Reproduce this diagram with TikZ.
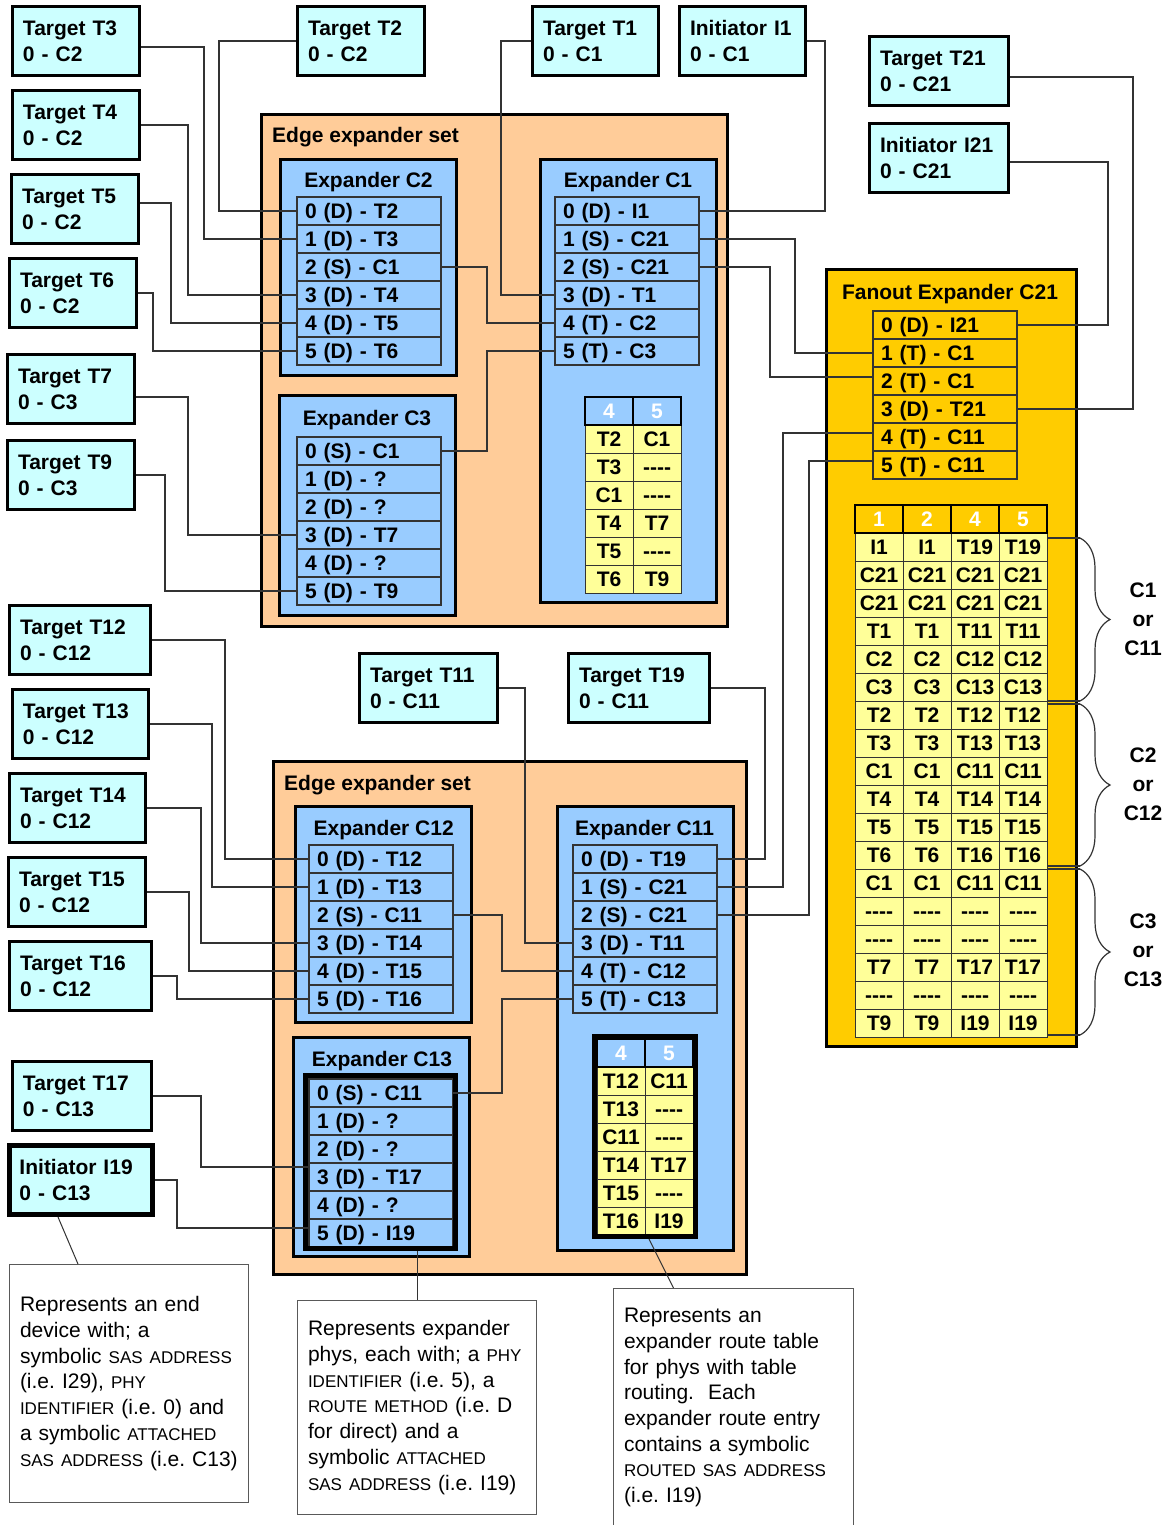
\documentclass[tikz,border=0pt]{standalone}
\usepackage{fontspec}
\setmainfont{Liberation Sans}
\usetikzlibrary{decorations.pathreplacing}
\definecolor{cyanbox}{HTML}{CCFFFF}
\definecolor{orangebox}{HTML}{FFCC99}
\definecolor{bluebox}{HTML}{99CCFF}
\definecolor{goldbox}{HTML}{FFCC00}
\definecolor{yellowcell}{HTML}{FFFF99}
\definecolor{linegray}{HTML}{333333}
\frenchspacing
\newcommand\bigf{\fontsize{21}{26}\selectfont\bfseries}
\newcommand\lblf{\fontsize{21}{29}\selectfont\bfseries}
\newcommand\notef{\fontsize{21}{25.7}\selectfont\frenchspacing}
\newcommand\smcp[1]{{\fontsize{17}{25.7}\selectfont #1}}
\newcommand\dsh{-{}-{}-{}-}
\begin{document}
\begin{tikzpicture}[x=1pt,y=-1pt,
  tgtbox/.style={draw=black, line width=3pt, fill=cyanbox, anchor=north west, minimum height=69pt, inner xsep=10.5pt, inner ysep=0pt, align=left, font=\bigf},
  esetbox/.style={draw=black, line width=3pt, fill=orangebox, anchor=north west, inner sep=0pt},
  expbox/.style={draw=black, line width=3pt, fill=bluebox, anchor=north west, inner sep=0pt},
  fanbox/.style={draw=black, line width=3pt, fill=goldbox, anchor=north west, inner sep=0pt},
  portrow/.style={draw=linegray, line width=1.2pt, anchor=north west, outer sep=0pt, minimum width=144pt, minimum height=28pt, text width=128pt, inner xsep=8pt, inner ysep=0pt, text height=17pt, text depth=2pt, align=left, font=\bigf},
  ttl/.style={anchor=base, font=\bigf, inner sep=0pt},
  tcell/.style={draw=linegray, line width=1pt, fill=yellowcell, anchor=north west, outer sep=0pt, minimum width=48pt, minimum height=28pt, inner sep=0pt, text height=17pt, text depth=2pt, font=\bigf},
  thcell/.style={tcell, draw=black, line width=2pt, text=white},
  conn/.style={draw=black!80, line width=1.2pt},
  notebox/.style={draw=black!65, line width=1pt, fill=white, anchor=north west, inner xsep=10.5pt, inner ysep=0pt, align=left, font=\notef},
  thickframe/.style={draw=black, line width=5pt, anchor=north west, inner sep=0pt},
  brc/.style={draw=black!80, line width=1.2pt, decorate, decoration={brace, amplitude=30pt}},
]
\useasboundingbox (0,0) rectangle (1172,1525);
\fill[white] (0,0) rectangle (1172,1525);

% containers
\node[esetbox, minimum width=466pt, minimum height=512pt] (es1) at (260,113) {};
\node[esetbox, minimum width=473pt, minimum height=513pt] (es2) at (272,760) {};
\node[fanbox, minimum width=250pt, minimum height=777pt] (fan) at (825,268) {};
\node[expbox, minimum width=176pt, minimum height=216pt] (c2) at (279,158) {};
\node[expbox, minimum width=176pt, minimum height=443pt] (c1) at (539,158) {};
\node[expbox, minimum width=176pt, minimum height=220pt] (c3) at (278,394) {};
\node[expbox, minimum width=176pt, minimum height=216pt] (c12) at (294,805) {};
\node[expbox, minimum width=176pt, minimum height=444pt] (c11) at (556,805) {};
\node[expbox, minimum width=176pt, minimum height=219pt] (c13) at (292,1036) {};

% titles
\node[ttl, anchor=base west] (es1t) at (272,143) {Edge expander set};
\node[ttl] (c2t) at (368.5,188) {Expander C2};
\node[ttl] (c1t) at (628,188) {Expander C1};
\node[ttl] (c3t) at (367,425) {Expander C3};
\node[ttl] (fant) at (950,299) {Fanout Expander C21};
\node[ttl, anchor=base west] (es2t) at (284,790.5) {Edge expander set};
\node[ttl] (c12t) at (383.7,835) {Expander C12};
\node[ttl] (c11t) at (644.5,835) {Expander C11};
\node[ttl] (c13t) at (382,1066.5) {Expander C13};

% ports
\foreach \i/\t in {0/{0 (D) - T2},1/{1 (D) - T3},2/{2 (S) - C1},3/{3 (D) - T4},4/{4 (D) - T5},5/{5 (D) - T6}}
  \node[portrow] (c2p\i) at (297,{197+28*\i}) {\t};
\foreach \i/\t in {0/{0 (D) - I1},1/{1 (S) - C21},2/{2 (S) - C21},3/{3 (D) - T1},4/{4 (T) - C2},5/{5 (T) - C3}}
  \node[portrow] (c1p\i) at (555,{197+28*\i}) {\t};
\foreach \i/\t in {0/{0 (S) - C1},1/{1 (D) - ?},2/{2 (D) - ?},3/{3 (D) - T7},4/{4 (D) - ?},5/{5 (D) - T9}}
  \node[portrow] (c3p\i) at (297,{437+28*\i}) {\t};
\foreach \i/\t in {0/{0 (D) - I21},1/{1 (T) - C1},2/{2 (T) - C1},3/{3 (D) - T21},4/{4 (T) - C11},5/{5 (T) - C11}}
  \node[portrow] (fp\i) at (873,{311+28*\i}) {\t};
\foreach \i/\t in {0/{0 (D) - T12},1/{1 (D) - T13},2/{2 (S) - C11},3/{3 (D) - T14},4/{4 (D) - T15},5/{5 (D) - T16}}
  \node[portrow] (c12p\i) at (309,{845+28*\i}) {\t};
\foreach \i/\t in {0/{0 (D) - T19},1/{1 (S) - C21},2/{2 (S) - C21},3/{3 (D) - T11},4/{4 (T) - C12},5/{5 (T) - C13}}
  \node[portrow] (c11p\i) at (573,{845+28*\i}) {\t};
\foreach \i/\t in {0/{0 (S) - C11},1/{1 (D) - ?},2/{2 (D) - ?},3/{3 (D) - T17},4/{4 (D) - ?},5/{5 (D) - I19}}
  \node[portrow] (c13p\i) at (309,{1079+28*\i}) {\t};

% C1 route table
\foreach \k/\a/\b in {0/T2/C1,1/T3/\dsh,2/C1/\dsh,3/T4/T7,4/T5/\dsh,5/T6/T9}{
  \node[tcell] (c1ta-\k) at (585,{425+28*\k}) {\a};
  \node[tcell] (c1tb-\k) at (633,{425+28*\k}) {\b};
}
\node[thcell, fill=bluebox] (c1th4) at (585,397) {4};
\node[thcell, fill=bluebox] (c1th5) at (633,397) {5};

% C11 route table
\foreach \k/\a/\b in {0/T12/C11,1/T13/\dsh,2/C11/\dsh,3/T14/T17,4/T15/\dsh,5/T16/I19}{
  \node[tcell] (c11ta-\k) at (597,{1067+28*\k}) {\a};
  \node[tcell] (c11tb-\k) at (645,{1067+28*\k}) {\b};
}
\node[thcell, fill=bluebox] (c11th4) at (597,1039) {4};
\node[thcell, fill=bluebox] (c11th5) at (645,1039) {5};
\node[thickframe, minimum width=101pt, minimum height=200pt] (c11tf) at (592,1034) {};

% C13 port frame
\node[thickframe, minimum width=150pt, minimum height=173pt] (c13f) at (303,1073) {};

% fanout route table
\foreach \r/\a/\b/\c/\d in {
1/I1/I1/T19/T19,
2/C21/C21/C21/C21,
3/C21/C21/C21/C21,
4/T1/T1/T11/T11,
5/C2/C2/C12/C12,
6/C3/C3/C13/C13,
7/T2/T2/T12/T12,
8/T3/T3/T13/T13,
9/C1/C1/C11/C11,
10/T4/T4/T14/T14,
11/T5/T5/T15/T15,
12/T6/T6/T16/T16,
13/C1/C1/C11/C11,
14/\dsh/\dsh/\dsh/\dsh,
15/\dsh/\dsh/\dsh/\dsh,
16/T7/T7/T17/T17,
17/\dsh/\dsh/\dsh/\dsh,
18/T9/T9/I19/I19}{
  \node[tcell] (ft-\r-a) at (855,{533+28*(\r-1)}) {\a};
  \node[tcell] (ft-\r-b) at (903,{533+28*(\r-1)}) {\b};
  \node[tcell] (ft-\r-c) at (951,{533+28*(\r-1)}) {\c};
  \node[tcell] (ft-\r-d) at (999,{533+28*(\r-1)}) {\d};
}
\node[thcell, fill=goldbox] (fth1) at (855,505) {1};
\node[thcell, fill=goldbox] (fth2) at (903,505) {2};
\node[thcell, fill=goldbox] (fth4) at (951,505) {4};
\node[thcell, fill=goldbox] (fth5) at (999,505) {5};

% end devices
\node[tgtbox, minimum width=127pt, text width=106pt] (t3) at (11,5) {Target T3\\0 - C2};
\node[tgtbox, minimum width=127pt, text width=106pt] (t4) at (11,89) {Target T4\\0 - C2};
\node[tgtbox, minimum width=127pt, text width=106pt] (t5) at (10,173) {Target T5\\0 - C2};
\node[tgtbox, minimum width=127pt, text width=106pt] (t6) at (8,257) {Target T6\\0 - C2};
\node[tgtbox, minimum width=127pt, text width=106pt] (t7) at (6,353) {Target T7\\0 - C3};
\node[tgtbox, minimum width=127pt, text width=106pt] (t9) at (6,439) {Target T9\\0 - C3};
\node[tgtbox, minimum width=141pt, text width=120pt] (t12) at (8,604) {Target T12\\0 - C12};
\node[tgtbox, minimum width=136pt, text width=115pt] (t13) at (11,688) {Target T13\\0 - C12};
\node[tgtbox, minimum width=136pt, text width=115pt] (t14) at (8,772) {Target T14\\0 - C12};
\node[tgtbox, minimum width=137pt, text width=116pt] (t15) at (7,856) {Target T15\\0 - C12};
\node[tgtbox, minimum width=142pt, text width=121pt] (t16) at (8,940) {Target T16\\0 - C12};
\node[tgtbox, minimum width=139pt, text width=118pt] (t17) at (11,1060) {Target T17\\0 - C13};
\node[tgtbox, line width=5pt, inner xsep=10pt, minimum width=143pt, text width=123pt] (i19) at (7,1143) {Initiator I19\\0 - C13};
\node[tgtbox, minimum width=127pt, text width=106pt] (t2) at (296,5) {Target T2\\0 - C2};
\node[tgtbox, minimum width=126pt, text width=105pt] (t1) at (531,5) {Target T1\\0 - C1};
\node[tgtbox, minimum width=126pt, text width=105pt] (i1) at (678,5) {Initiator I1\\0 - C1};
\node[tgtbox, minimum width=139pt, text width=118pt] (t21) at (868,35) {Target T21\\0 - C21};
\node[tgtbox, minimum width=139pt, text width=118pt] (i21) at (868,122) {Initiator I21\\0 - C21};
\node[tgtbox, minimum width=138pt, text width=117pt] (t11) at (358,652) {Target T11\\0 - C11};
\node[tgtbox, minimum width=141pt, text width=120pt] (t19) at (567,652) {Target T19\\0 - C11};

% connectors, upper set
\draw[conn] ([yshift=-6pt]t3.east) -- ++(63,0) |- (c2p1.west);
\draw[conn] (t2.west) -- ++(-77,0) |- (c2p0.west);
\draw[conn] (t4.east) -- ++(47,0) |- (c2p3.west);
\draw[conn] ([yshift=6pt]t5.east) -- ++(31,0) |- (c2p4.west);
\draw[conn] (t6.east) -- ++(15,0) |- (c2p5.west);
\draw[conn] ([yshift=-8pt]t7.east) -- ++(52,0) |- (c3p3.west);
\draw[conn] (t9.east) -- ++(29,0) |- (c3p5.west);
\draw[conn] (c2p2.east) -- ++(46,0) |- (c1p4.west);
\draw[conn] (c3p0.east) -- ++(46,0) |- (c1p5.west);
\draw[conn] (t1.west) -- ++(-30,0) |- (c1p3.west);
\draw[conn] (i1.east) -- ++(18,0) |- (c1p0.east);
\draw[conn] (c1p1.east) -- ++(96,0) |- (fp1.west);
\draw[conn] (c1p2.east) -- ++(71,0) |- ([yshift=4pt]fp2.west);
\draw[conn] ([yshift=-6pt]t21.east) -- ++(123,0) |- (fp3.east);
\draw[conn] ([yshift=-4pt]i21.east) -- ++(98,0) |- (fp0.east);
% connectors, fanout to lower set
\draw[conn] ([yshift=4pt]fp4.west) -- ++(-90,0) |- (c11p1.east);
\draw[conn] ([yshift=4pt]fp5.west) -- ++(-64,0) |- (c11p2.east);
% connectors, lower set
\draw[conn] (t11.east) -- ++(26,0) |- (c11p3.west);
\draw[conn] (t19.east) -- ++(54,0) |- (c11p0.east);
\draw[conn] (c12p2.east) -- ++(49,0) |- (c11p4.west);
\draw[conn] (c13p0.east) -- ++(49,0) |- (c11p5.west);
\draw[conn] (t12.east) -- ++(73,0) |- (c12p0.west);
\draw[conn] (t13.east) -- ++(62,0) |- (c12p1.west);
\draw[conn] (t14.east) -- ++(54,0) |- (c12p3.west);
\draw[conn] (t15.east) -- ++(42,0) |- (c12p4.west);
\draw[conn] (t16.east) -- ++(24,0) |- (c12p5.west);
\draw[conn] (t17.east) -- ++(48,0) |- ([yshift=10pt]c13p3.west);
\draw[conn] (i19.east) -- ++(22,0) |- ([yshift=5pt]c13p5.west);

% braces
\coordinate (b1s) at (1080,538);
\coordinate (b1e) at (1080,701);
\coordinate (b2s) at (1080,704);
\coordinate (b2e) at (1080,866);
\coordinate (b3s) at (1080,869);
\coordinate (b3e) at (1080,1035);
\draw[conn] (ft-1-d.east |- b1s) -- (b1s);
\draw[conn] (ft-1-d.east |- b1e) -- (b1e);
\draw[conn] (ft-1-d.east |- b2s) -- (b2s);
\draw[conn] (ft-1-d.east |- b2e) -- (b2e);
\draw[conn] (ft-1-d.east |- b3s) -- (b3s);
\draw[conn] (ft-1-d.east |- b3e) -- (b3e);
\draw[brc] (b1s) -- (b1e);
\draw[brc] (b2s) -- (b2e);
\draw[brc] (b3s) -- (b3e);
\node[font=\lblf, align=center] (lab1) at (1143,619) {C1\\or\\C11};
\node[font=\lblf, align=center] (lab2) at (1143,784) {C2\\or\\C12};
\node[font=\lblf, align=center] (lab3) at (1143,950) {C3\\or\\C13};

% notes
\node[notebox, minimum width=239pt, minimum height=238pt, text width=218pt] (noteA) at (9,1264) {Represents an end\\device with; a\\symbolic \smcp{SAS ADDRESS}\\(i.e. I29), \smcp{PHY}\\\smcp{IDENTIFIER} (i.e. 0) and\\a symbolic \smcp{ATTACHED}\\\smcp{SAS ADDRESS} (i.e. C13)};
\node[notebox, minimum width=239pt, minimum height=214pt, text width=218pt] (noteB) at (297,1300) {Represents expander\\phys, each with; a \smcp{PHY}\\\smcp{IDENTIFIER} (i.e. 5), a\\\smcp{ROUTE METHOD} (i.e. D\\for direct) and a\\symbolic \smcp{ATTACHED}\\\smcp{SAS ADDRESS} (i.e. I19)};
\node[notebox, minimum width=240pt, minimum height=238pt, text width=219pt] (noteC) at (613,1288) {Represents an\\expander route table\\for phys with table\\routing.\ \ Each\\expander route entry\\contains a symbolic\\\smcp{ROUTED SAS ADDRESS}\\(i.e. I19)};
\draw[conn, line width=1pt] ([xshift=-23pt]i19.south) -- ([xshift=-51pt]noteA.north);
\draw[conn, line width=1pt] (c13f.south -| noteB.north) -- (noteB.north);
\draw[conn, line width=1pt] ([xshift=4pt]c11tf.south) -- ([xshift=-60pt]noteC.north);
\end{tikzpicture}
\end{document}
